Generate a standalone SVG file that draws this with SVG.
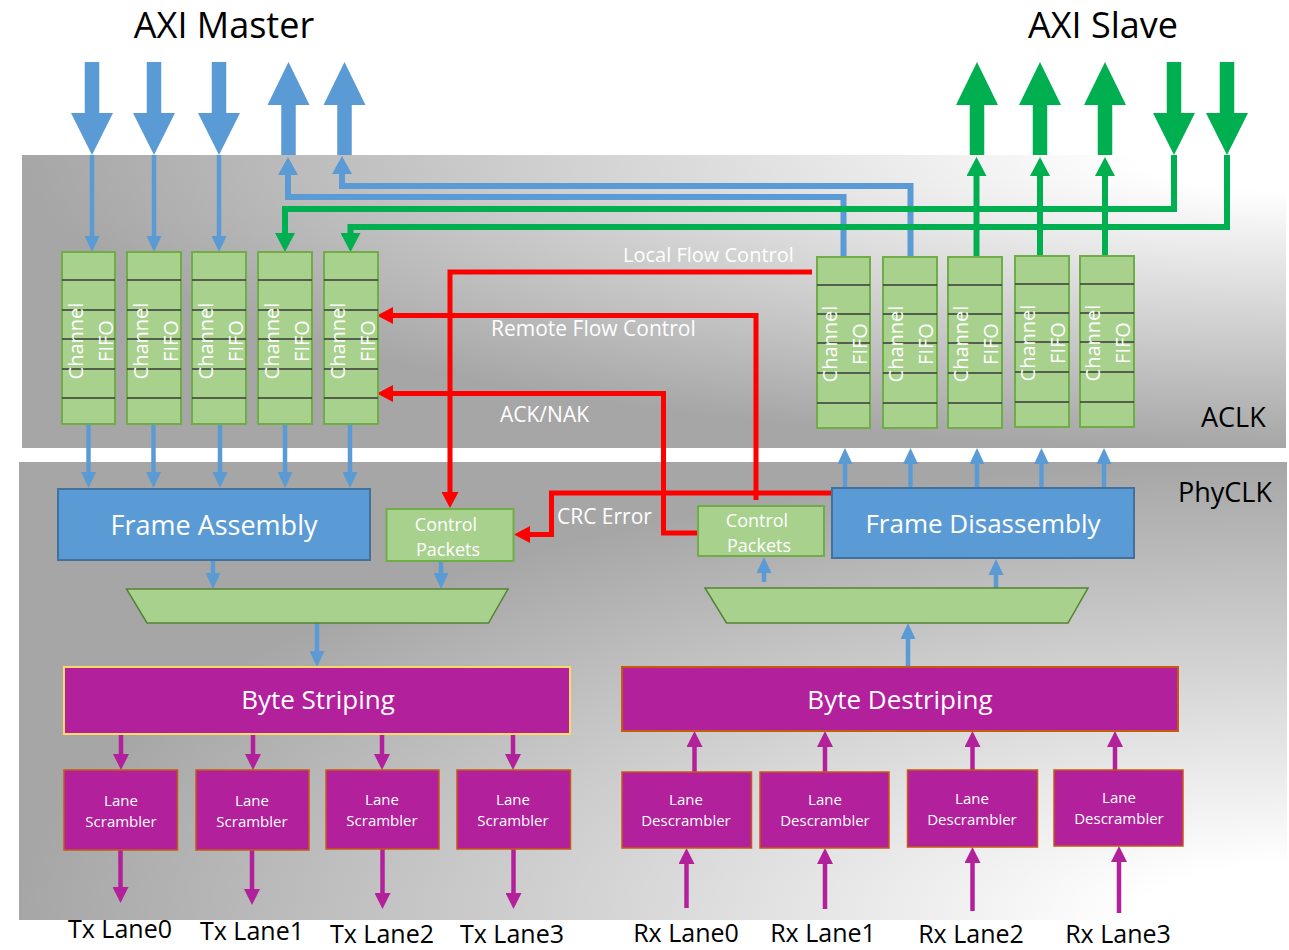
<svg xmlns="http://www.w3.org/2000/svg" width="1289" height="950" viewBox="0 0 1289 950">
<style>
text{font-family:"Open Sans","Liberation Sans",sans-serif}
.hdr{font-size:36px;fill:#000;text-anchor:middle}
.clk{font-size:27px;fill:#000}
.fifoBox{fill:#a9d18e;stroke:#70ad47;stroke-width:2}
.fl{stroke:#3a3a3a;stroke-width:1.3}
.ft{font-size:20px;fill:#fff;text-anchor:middle}
.cp{fill:#a9d18e;stroke:#70ad47;stroke-width:2}
.cpt{font-size:18px;fill:#fff;text-anchor:middle}
.fr{fill:#5b9bd5;stroke:#41719c;stroke-width:2}
.frt{font-size:27px;fill:#fff;text-anchor:middle}
.trap{fill:#a9d18e;stroke:#548235;stroke-width:1.5}
.bs{fill:#b3209b;stroke-width:2}
.bst{font-size:26px;fill:#fff;text-anchor:middle}
.ln{fill:#b3209b;stroke:#c55a11;stroke-width:1.5}
.lnt{font-size:15px;fill:#fff;text-anchor:middle}
.lane{font-size:25px;fill:#000;text-anchor:middle}
.lbl{font-size:20px;fill:#fff}
.cb{fill:none;stroke:#5b9bd5;stroke-width:4.5}
.cbw{fill:none;stroke:#5b9bd5;stroke-width:6}
.cg{fill:none;stroke:#00b050;stroke-width:6}
.cr{fill:none;stroke:#ff0000;stroke-width:5}
.cp2{fill:none;stroke:#b3209b;stroke-width:4.5}
.bigB{fill:#5b9bd5}
.bigG{fill:#00b050}
</style>
<defs>
<radialGradient id="gA" cx="1" cy="0" r="1" fx="1" fy="0">
<stop offset="0" stop-color="#ffffff"/>
<stop offset="0.12" stop-color="#ffffff"/>
<stop offset="1" stop-color="#a6a6a6"/>
</radialGradient>
<radialGradient id="gP" cx="1" cy="1" r="1" fx="1" fy="1">
<stop offset="0" stop-color="#ffffff"/>
<stop offset="0.12" stop-color="#ffffff"/>
<stop offset="1" stop-color="#a6a6a6"/>
</radialGradient>
<marker id="mB" markerUnits="userSpaceOnUse" markerWidth="16" markerHeight="15" refX="1" refY="7.5" orient="auto"><path d="M0,0 L16,7.5 L0,15 Z" fill="#5b9bd5"/></marker>
<marker id="mBW" markerUnits="userSpaceOnUse" markerWidth="18" markerHeight="20" refX="1" refY="10" orient="auto"><path d="M0,0 L18,10 L0,20 Z" fill="#5b9bd5"/></marker>
<marker id="mG" markerUnits="userSpaceOnUse" markerWidth="19" markerHeight="20" refX="1" refY="10" orient="auto"><path d="M0,0 L19,10 L0,20 Z" fill="#00b050"/></marker>
<marker id="mR" markerUnits="userSpaceOnUse" markerWidth="16" markerHeight="17" refX="1" refY="8.5" orient="auto"><path d="M0,0 L16,8.5 L0,17 Z" fill="#ff0000"/></marker>
<marker id="mP" markerUnits="userSpaceOnUse" markerWidth="16" markerHeight="16" refX="1" refY="8" orient="auto"><path d="M0,0 L16,8 L0,16 Z" fill="#b3209b"/></marker>
</defs>

<rect x="0" y="0" width="1289" height="950" fill="#ffffff"/>
<g id="panels">
<rect id="aclk-panel" x="22" y="155" width="1264" height="293" fill="url(#gA)"/>
<rect id="phy-panel" x="19" y="462" width="1268" height="458" fill="url(#gP)"/>
</g>

<g id="titles">
<text class="hdr" x="224" y="38">AXI Master</text>
<text class="hdr" x="1103" y="38">AXI Slave</text>
<text class="clk" x="1201" y="427">ACLK</text>
<text class="clk" x="1178" y="502">PhyCLK</text>
</g>

<g id="axi-ports">
<polygon class="bigB" points="84.75,62 99.25,62 99.25,113 113,113 92,155 71,113 84.75,113"/>
<polygon class="bigB" points="146.75,62 161.25,62 161.25,113 175,113 154,155 133,113 146.75,113"/>
<polygon class="bigB" points="211.75,62 226.25,62 226.25,113 240,113 219,155 198,113 211.75,113"/>
<polygon class="bigB" points="288.5,62 309.5,105 295.75,105 295.75,155 281.25,155 281.25,105 267.5,105"/>
<polygon class="bigB" points="344.5,62 365.5,105 351.75,105 351.75,155 337.25,155 337.25,105 323.5,105"/>
<polygon class="bigG" points="977,62 998,105 984.25,105 984.25,155 969.75,155 969.75,105 956,105"/>
<polygon class="bigG" points="1040,62 1061,105 1047.25,105 1047.25,155 1032.75,155 1032.75,105 1019,105"/>
<polygon class="bigG" points="1105,62 1126,105 1112.25,105 1112.25,155 1097.75,155 1097.75,105 1084,105"/>
<polygon class="bigG" points="1166.75,62 1181.25,62 1181.25,113 1195,113 1174,155 1153,113 1166.75,113"/>
<polygon class="bigG" points="1219.75,62 1234.25,62 1234.25,113 1248,113 1227,155 1206,113 1219.75,113"/>
</g>

<g id="connectors">
<path class="cb" d="M92,155 V237" marker-end="url(#mB)"/>
<path class="cb" d="M154,155 V237" marker-end="url(#mB)"/>
<path class="cb" d="M219,155 V237" marker-end="url(#mB)"/>
<path class="cbw" d="M843.5,257 V197 H288 V174" marker-end="url(#mBW)"/>
<path class="cbw" d="M910.5,257 V186 H342 V173" marker-end="url(#mBW)"/>
<path class="cg" d="M1174,155 V209 H285 V234" marker-end="url(#mG)"/>
<path class="cg" d="M1227,155 V227 H350.5 V234" marker-end="url(#mG)"/>
<path class="cg" d="M976.5,257 V175" marker-end="url(#mG)"/>
<path class="cg" d="M1040,256 V175" marker-end="url(#mG)"/>
<path class="cg" d="M1105,256 V175" marker-end="url(#mG)"/>
<path class="cb" d="M88.5,424 V473" marker-end="url(#mB)"/>
<path class="cb" d="M153.5,424 V473" marker-end="url(#mB)"/>
<path class="cb" d="M220,424 V473" marker-end="url(#mB)"/>
<path class="cb" d="M285,424 V473" marker-end="url(#mB)"/>
<path class="cb" d="M350,424 V473" marker-end="url(#mB)"/>
<path class="cb" d="M845,488 V463" marker-end="url(#mB)"/>
<path class="cb" d="M910.5,488 V463" marker-end="url(#mB)"/>
<path class="cb" d="M977,488 V463" marker-end="url(#mB)"/>
<path class="cb" d="M1041.5,488 V463" marker-end="url(#mB)"/>
<path class="cb" d="M1104,488 V463" marker-end="url(#mB)"/>
<path class="cb" d="M213,560 V574" marker-end="url(#mB)"/>
<path class="cb" d="M441,561 V574" marker-end="url(#mB)"/>
<path class="cb" d="M317,623 V652" marker-end="url(#mB)"/>
<path class="cb" d="M764,582 V572" marker-end="url(#mB)"/>
<path class="cb" d="M996,588 V574" marker-end="url(#mB)"/>
<path class="cb" d="M908,667 V638" marker-end="url(#mB)"/>
<path class="cr" d="M812,272 H450 V493" marker-end="url(#mR)"/>
<path class="cr" d="M756,500 V315.5 H392" marker-end="url(#mR)"/>
<path class="cr" d="M698,533 H663.5 V393.5 H392" marker-end="url(#mR)"/>
<path class="cr" d="M832,493 H551.5 V534.5 H529" marker-end="url(#mR)"/>
<path class="cp2" d="M121,734 V755" marker-end="url(#mP)"/>
<path class="cp2" d="M253,734 V755" marker-end="url(#mP)"/>
<path class="cp2" d="M382,734 V755" marker-end="url(#mP)"/>
<path class="cp2" d="M513,734 V755" marker-end="url(#mP)"/>
<path class="cp2" d="M120.5,850 V888" marker-end="url(#mP)"/>
<path class="cp2" d="M252,850 V890" marker-end="url(#mP)"/>
<path class="cp2" d="M382.5,849 V894" marker-end="url(#mP)"/>
<path class="cp2" d="M513.5,849 V894" marker-end="url(#mP)"/>
<path class="cp2" d="M686.5,908 V863" marker-end="url(#mP)"/>
<path class="cp2" d="M825,909 V863" marker-end="url(#mP)"/>
<path class="cp2" d="M972.5,911 V862" marker-end="url(#mP)"/>
<path class="cp2" d="M1119,913 V861" marker-end="url(#mP)"/>
<path class="cp2" d="M694.5,772 V746" marker-end="url(#mP)"/>
<path class="cp2" d="M825,772 V746" marker-end="url(#mP)"/>
<path class="cp2" d="M972.5,770 V746" marker-end="url(#mP)"/>
<path class="cp2" d="M1115,770 V746" marker-end="url(#mP)"/>
</g>

<g id="labels">
<text class="lbl" x="623" y="262">Local Flow Control</text>
<text class="lbl" x="491" y="336" style="font-size:21px">Remote Flow Control</text>
<text class="lbl" x="500" y="422" style="font-size:21px">ACK/NAK</text>
<text class="lbl" x="557" y="524" style="font-size:21px">CRC Error</text>
</g>

<g id="tx-fifo1"><rect class="fifoBox" x="62" y="252" width="53" height="172"/>
<path class="fl" d="M62,280H115M62,310H115M62,339H115M62,369H115M62,398H115"/>
<text class="ft" transform="translate(83,341) rotate(-90)">Channel</text><text class="ft" transform="translate(113,341) rotate(-90)">FIFO</text></g>
<g id="tx-fifo2"><rect class="fifoBox" x="127" y="252" width="54" height="172"/>
<path class="fl" d="M127,280H181M127,310H181M127,339H181M127,369H181M127,398H181"/>
<text class="ft" transform="translate(148,341) rotate(-90)">Channel</text><text class="ft" transform="translate(178,341) rotate(-90)">FIFO</text></g>
<g id="tx-fifo3"><rect class="fifoBox" x="192" y="252" width="54" height="172"/>
<path class="fl" d="M192,280H246M192,310H246M192,339H246M192,369H246M192,398H246"/>
<text class="ft" transform="translate(213,341) rotate(-90)">Channel</text><text class="ft" transform="translate(243,341) rotate(-90)">FIFO</text></g>
<g id="tx-fifo4"><rect class="fifoBox" x="258" y="252" width="54" height="172"/>
<path class="fl" d="M258,280H312M258,310H312M258,339H312M258,369H312M258,398H312"/>
<text class="ft" transform="translate(279,341) rotate(-90)">Channel</text><text class="ft" transform="translate(309,341) rotate(-90)">FIFO</text></g>
<g id="tx-fifo5"><rect class="fifoBox" x="324" y="252" width="54" height="172"/>
<path class="fl" d="M324,280H378M324,310H378M324,339H378M324,369H378M324,398H378"/>
<text class="ft" transform="translate(345,341) rotate(-90)">Channel</text><text class="ft" transform="translate(375,341) rotate(-90)">FIFO</text></g>

<g id="rx-fifo1"><rect class="fifoBox" x="817" y="257" width="53" height="171"/>
<path class="fl" d="M817,285H870M817,314H870M817,343H870M817,373H870M817,403H870"/>
<text class="ft" transform="translate(837,344) rotate(-90)">Channel</text><text class="ft" transform="translate(867,344) rotate(-90)">FIFO</text></g>
<g id="rx-fifo2"><rect class="fifoBox" x="883" y="257" width="54" height="171"/>
<path class="fl" d="M883,285H937M883,314H937M883,343H937M883,373H937M883,403H937"/>
<text class="ft" transform="translate(903,344) rotate(-90)">Channel</text><text class="ft" transform="translate(933,344) rotate(-90)">FIFO</text></g>
<g id="rx-fifo3"><rect class="fifoBox" x="948" y="257" width="54" height="171"/>
<path class="fl" d="M948,285H1002M948,314H1002M948,343H1002M948,373H1002M948,403H1002"/>
<text class="ft" transform="translate(968,344) rotate(-90)">Channel</text><text class="ft" transform="translate(998,344) rotate(-90)">FIFO</text></g>
<g id="rx-fifo4"><rect class="fifoBox" x="1015" y="256" width="54" height="171"/>
<path class="fl" d="M1015,284H1069M1015,313H1069M1015,342H1069M1015,372H1069M1015,402H1069"/>
<text class="ft" transform="translate(1035,343) rotate(-90)">Channel</text><text class="ft" transform="translate(1065,343) rotate(-90)">FIFO</text></g>
<g id="rx-fifo5"><rect class="fifoBox" x="1080" y="256" width="54" height="171"/>
<path class="fl" d="M1080,284H1134M1080,313H1134M1080,342H1134M1080,372H1134M1080,402H1134"/>
<text class="ft" transform="translate(1100,343) rotate(-90)">Channel</text><text class="ft" transform="translate(1130,343) rotate(-90)">FIFO</text></g>

<g id="frame-assembly"><rect class="fr" x="58" y="489" width="312" height="71"/><text class="frt" x="214" y="535">Frame Assembly</text></g>
<g id="control-packets-tx"><rect class="cp" x="386.5" y="509" width="127" height="52"/><text class="cpt" x="446" y="531">Control</text><text class="cpt" x="448" y="556">Packets</text></g>
<g id="control-packets-rx"><rect class="cp" x="698" y="506" width="126" height="50"/><text class="cpt" x="757" y="527">Control</text><text class="cpt" x="759" y="552">Packets</text></g>
<g id="frame-disassembly"><rect class="fr" x="832" y="488" width="302" height="70"/><text class="frt" x="983" y="533" style="font-size:26px">Frame Disassembly</text></g>

<g id="tx-mux"><polygon class="trap" points="126.5,589 508,589 488.5,623 147,623"/></g>
<g id="rx-demux"><polygon class="trap" points="705,588 1088,588 1068,623 726.5,623"/></g>

<g id="byte-striping"><rect class="bs" x="64" y="667" width="506" height="67" stroke="#ffd966"/><text class="bst" x="318" y="709">Byte Striping</text></g>
<g id="byte-destriping"><rect class="bs" x="622" y="667" width="556" height="64" stroke="#c55a11"/><text class="bst" x="900" y="709">Byte Destriping</text></g>

<g id="scrambler0"><rect class="ln" x="64" y="770" width="113.5" height="80"/><text class="lnt" x="121" y="806">Lane</text><text class="lnt" x="121" y="827">Scrambler</text></g>
<g id="scrambler1"><rect class="ln" x="196" y="770" width="113" height="80"/><text class="lnt" x="252" y="806">Lane</text><text class="lnt" x="252" y="827">Scrambler</text></g>
<g id="scrambler2"><rect class="ln" x="326" y="770" width="113" height="79"/><text class="lnt" x="382" y="805">Lane</text><text class="lnt" x="382" y="826">Scrambler</text></g>
<g id="scrambler3"><rect class="ln" x="457" y="770" width="113.5" height="79"/><text class="lnt" x="513" y="805">Lane</text><text class="lnt" x="513" y="826">Scrambler</text></g>

<g id="descrambler0"><rect class="ln" x="622" y="772" width="129.5" height="76"/><text class="lnt" x="686" y="805">Lane</text><text class="lnt" x="686" y="826">Descrambler</text></g>
<g id="descrambler1"><rect class="ln" x="760" y="772" width="129" height="76"/><text class="lnt" x="825" y="805">Lane</text><text class="lnt" x="825" y="826">Descrambler</text></g>
<g id="descrambler2"><rect class="ln" x="907.5" y="770" width="130" height="77"/><text class="lnt" x="972" y="804">Lane</text><text class="lnt" x="972" y="825">Descrambler</text></g>
<g id="descrambler3"><rect class="ln" x="1054" y="770" width="129" height="76"/><text class="lnt" x="1119" y="803">Lane</text><text class="lnt" x="1119" y="824">Descrambler</text></g>

<g id="lane-labels">
<text class="lane" x="120" y="938">Tx Lane0</text>
<text class="lane" x="252" y="940">Tx Lane1</text>
<text class="lane" x="382" y="943">Tx Lane2</text>
<text class="lane" x="512" y="943">Tx Lane3</text>
<text class="lane" x="686" y="942">Rx Lane0</text>
<text class="lane" x="823" y="942">Rx Lane1</text>
<text class="lane" x="971" y="943">Rx Lane2</text>
<text class="lane" x="1118" y="943">Rx Lane3</text>
</g>
</svg>
